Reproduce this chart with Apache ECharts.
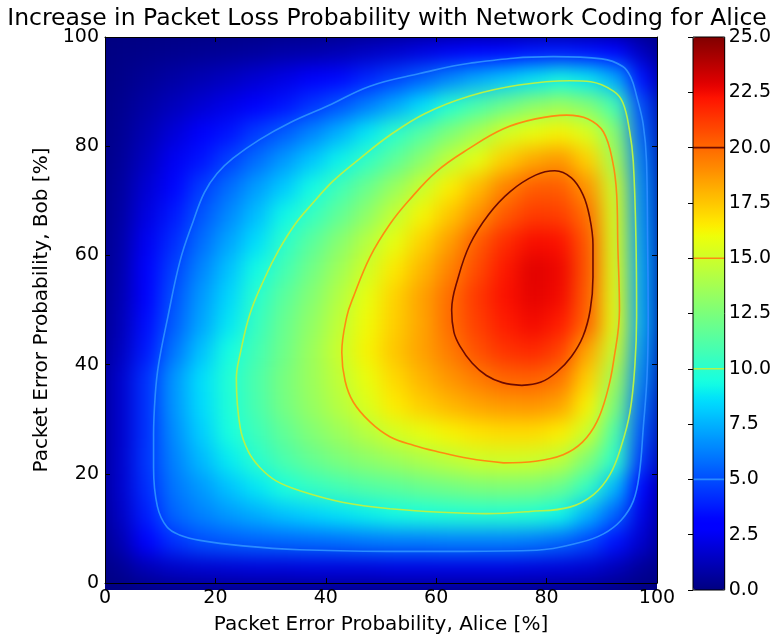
<!DOCTYPE html>
<html>

<head>
	<meta charset="utf-8" />
	<title>Increase in Packet Loss Probability</title>
	<script src="https://cdn.jsdelivr.net/npm/echarts@6/dist/echarts.min.js"></script>
	<style>
		body { margin: 0; background: #fff; }
		#main { width: 774px; height: 640px; }
		/* heatmap layer (zlevel 0): soften the cells and cut it to the plot box */
		#main canvas[data-zr-dom-id="zr_0"] {
			filter: blur(10px);
			clip-path: inset(37px 117px 50px 105px);
			background: #00007f;
		}
	</style>
</head>

<body>
	<div id="main"></div>
	<script type="text/javascript">
		// cell centres, Alice (x) and Bob (y), in %
		var xCenters = [2.5, 7.5, 12.5, 17.5, 22.5, 27.5, 32.5, 37.5, 42.5, 47.5, 52.5, 57.5, 62.5, 67.5, 72.5, 77.5, 82.5, 87.5, 92.5, 97.5];
		var yCenters = [2.5, 7.5, 12.5, 17.5, 22.5, 27.5, 32.5, 37.5, 42.5, 47.5, 52.5, 57.5, 62.5, 67.5, 72.5, 77.5, 82.5, 87.5, 92.5, 97.5];

		// increase in loss probability [%], one row per y centre, bottom row first
		var rowsByY = [
			[0.4, 1.1, 1.5, 1.7, 1.8, 1.9, 1.9, 2.0, 2.0, 2.0, 2.1, 2.1, 2.1, 2.1, 2.1, 2.0, 1.9, 1.7, 1.2, 0.5],
			[1.0, 3.0, 4.3, 5.0, 5.3, 5.5, 5.6, 5.7, 5.8, 6.0, 6.1, 6.1, 6.2, 6.2, 6.2, 6.0, 5.6, 4.8, 3.5, 1.6],
			[1.4, 3.8, 5.6, 6.3, 6.9, 7.4, 7.9, 8.3, 8.7, 9.0, 9.3, 9.5, 9.7, 9.8, 9.8, 9.7, 9.2, 7.5, 5.5, 2.2],
			[1.6, 4.2, 6.0, 6.9, 7.9, 8.8, 9.6, 10.3, 10.8, 11.2, 11.5, 11.9, 12.2, 12.5, 12.6, 12.5, 11.9, 10.3, 7.6, 3.1],
			[1.6, 4.4, 6.3, 7.7, 8.9, 10.0, 11.0, 11.8, 12.5, 13.0, 13.5, 14.0, 14.5, 15.0, 15.1, 15.0, 14.5, 12.6, 10.1, 4.3],
			[1.6, 4.3, 6.6, 8.2, 9.5, 10.6, 11.7, 12.7, 13.5, 14.3, 15.2, 15.8, 16.3, 16.7, 16.9, 16.9, 16.4, 14.9, 11.0, 5.0],
			[1.6, 4.3, 6.8, 8.5, 9.7, 11.0, 12.3, 13.3, 14.3, 15.4, 16.5, 17.3, 17.9, 18.4, 18.7, 18.8, 18.4, 16.3, 12.5, 5.6],
			[1.6, 4.3, 6.8, 8.6, 9.8, 11.1, 12.4, 13.5, 14.6, 15.9, 17.0, 18.0, 18.8, 19.5, 20.1, 20.2, 19.7, 17.2, 13.6, 6.2],
			[1.3, 3.7, 6.0, 7.9, 9.4, 10.8, 12.1, 13.5, 14.9, 16.3, 17.5, 18.5, 19.5, 20.6, 21.4, 21.7, 21.0, 18.3, 14.8, 6.7],
			[1.1, 3.4, 5.4, 7.2, 8.8, 10.4, 11.9, 13.2, 14.6, 16.1, 17.3, 18.4, 19.9, 21.1, 22.0, 22.5, 22.0, 20.0, 15.6, 7.1],
			[1.0, 3.1, 5.1, 6.9, 8.4, 10.0, 11.5, 12.8, 14.2, 15.8, 17.2, 18.5, 19.9, 21.3, 22.3, 22.8, 22.5, 20.2, 15.5, 7.0],
			[0.9, 2.8, 4.7, 6.4, 7.9, 9.3, 10.8, 12.2, 13.6, 15.1, 16.6, 17.9, 19.3, 20.8, 22.1, 22.9, 22.6, 20.4, 15.4, 7.0],
			[0.8, 2.5, 4.2, 5.8, 7.2, 8.6, 10.1, 11.5, 12.9, 14.3, 15.8, 17.2, 18.6, 20.3, 21.6, 22.4, 22.3, 20.3, 15.3, 6.8],
			[0.7, 2.1, 3.7, 5.2, 6.5, 7.8, 9.2, 10.4, 11.7, 13.1, 14.7, 16.2, 17.5, 18.9, 20.4, 21.2, 21.1, 19.8, 15.2, 6.6],
			[0.6, 1.8, 3.2, 4.6, 5.8, 7.0, 8.1, 9.3, 10.7, 12.0, 13.4, 14.9, 16.4, 17.8, 19.3, 20.3, 20.3, 18.8, 14.9, 6.4],
			[0.5, 1.4, 2.5, 3.6, 4.7, 5.8, 6.9, 8.0, 9.1, 10.3, 11.6, 13.0, 14.6, 15.8, 17.3, 18.3, 18.8, 17.2, 13.8, 6.0],
			[0.4, 1.1, 1.9, 2.7, 3.6, 4.6, 5.4, 6.4, 7.5, 8.8, 10.1, 11.3, 12.6, 13.8, 15.2, 15.9, 16.3, 15.4, 12.8, 5.4],
			[0.3, 0.8, 1.3, 1.8, 2.3, 2.9, 3.6, 4.4, 5.2, 6.2, 7.3, 8.6, 9.9, 11.0, 12.0, 13.0, 13.5, 12.7, 10.8, 4.8],
			[0.2, 0.5, 0.8, 1.1, 1.4, 1.8, 2.2, 2.7, 3.3, 4.0, 4.7, 5.5, 6.4, 7.3, 8.0, 8.7, 9.2, 8.8, 7.3, 3.4],
			[0.1, 0.2, 0.3, 0.4, 0.5, 0.6, 0.8, 0.9, 1.1, 1.4, 1.7, 2.1, 2.5, 2.9, 3.2, 3.5, 3.6, 3.4, 2.8, 1.3]
		];

		// contour lines, [alice, bob]
		var contour5 = [[51.6, 5.8], [65, 5.8], [78.2, 6.0], [86, 7.4], [90.3, 9], [93.5, 11.5], [95.7, 15], [96.8, 20], [97.5, 28.3], [98.2, 38], [98.4, 48.8], [98.3, 62], [98.1, 77.2], [97.5, 84], [96.3, 89.2], [95.3, 92.5], [93.8, 94.6], [90, 96], [81.2, 96.4], [66.1, 95.2], [57, 93.3], [48, 91], [40.4, 87.4], [33.5, 84.3], [28, 81.2], [23.2, 77.8], [20.3, 75], [18, 71.5], [16, 66.3], [13.6, 59], [11.4, 48.8], [9.7, 40], [9.1, 34.4], [8.8, 27], [8.8, 21.1], [9.5, 14], [11.2, 10.3], [13.5, 8.8], [17.2, 7.8], [25, 6.8], [35.3, 6.1], [51.6, 5.8]];
		var contour10 = [[51.6, 13.6], [60, 13.0], [69.1, 12.7], [77, 13.1], [84.2, 13.9], [88.5, 16.2], [91.5, 19.9], [93.5, 25], [95.1, 31.3], [96, 40], [96.3, 48.8], [96.2, 62], [95.7, 77.2], [95.0, 83], [93.8, 88], [92.1, 90.1], [88, 91.8], [84.2, 92], [75, 91.2], [66.1, 89.2], [58, 86], [51.6, 82], [46, 77.6], [41.3, 73.6], [37.5, 69.4], [34.5, 65.8], [31.5, 61], [29, 56], [26.3, 49.4], [24.5, 42], [23.8, 37.4], [24.5, 28.4], [26, 24], [28.1, 21.1], [31, 18.7], [35.3, 16.9], [43, 14.8], [51.6, 13.6]];
		var contour15 = [[72.2, 22], [78, 22.3], [83, 23.5], [86.5, 25.8], [89.1, 29.5], [91, 35], [92.1, 40.4], [93.2, 50], [92.9, 62], [92.7, 71.1], [92, 77], [90.3, 82.6], [87.5, 85], [83.6, 85.7], [78, 85], [72.2, 83.2], [66, 79.6], [60.1, 75.4], [55, 70], [51.6, 65.7], [48, 59.7], [45, 52.4], [43.8, 48.8], [42.9, 42.2], [43.5, 37], [45, 33.1], [48, 29.5], [51.6, 26.8], [56, 25.2], [60.1, 24.1], [66, 22.8], [72.2, 22]];
		var contour20 = [[75.5, 36.2], [79, 36.8], [81.8, 38.6], [84.5, 41.5], [86.6, 45.2], [87.9, 50], [88.4, 56], [88.4, 62], [87.8, 67], [86.6, 71.1], [84.5, 74.2], [81.5, 75.5], [78, 74.7], [73.4, 71.7], [69.5, 67.5], [66.1, 62], [64, 56], [62.8, 50], [63.2, 46], [64.3, 43.4], [66.5, 40.3], [69.1, 38], [72, 36.7], [75.5, 36.2]];

		var contourLevels = [5, 10, 15, 20];
		var contourLines = [contour5, contour10, contour15, contour20];
		var contourColors = ['#2a8cff', '#b4f24a', '#ff8a10', '#6e0a00'];

		// matplotlib "jet" colour map
		var jetR = [[0, 0], [0.35, 0], [0.66, 1], [0.89, 1], [1, 0.5]];
		var jetG = [[0, 0], [0.125, 0], [0.375, 1], [0.64, 1], [0.91, 0], [1, 0]];
		var jetB = [[0, 0.5], [0.11, 1], [0.34, 1], [0.65, 0], [1, 0]];
		function seg(pts, t) {
			for (var i = 1; i < pts.length; i++) {
				if (t <= pts[i][0]) {
					var a = pts[i - 1], b = pts[i];
					return a[1] + (b[1] - a[1]) * (t - a[0]) / (b[0] - a[0]);
				}
			}
			return pts[pts.length - 1][1];
		}
		var jetColors = [];
		for (var k = 0; k <= 64; k++) {
			var t = k / 64;
			jetColors.push('rgb(' + Math.round(seg(jetR, t) * 255) + ',' + Math.round(seg(jetG, t) * 255) + ',' + Math.round(seg(jetB, t) * 255) + ')');
		}

		var heatData = [];
		for (var j = 0; j < yCenters.length; j++) {
			for (var i = 0; i < xCenters.length; i++) {
				heatData.push([i, j, rowsByY[j][i]]);
			}
		}

		var font = 'DejaVu Sans';
		var blackLine = { color: '#000', width: 1 };

		var series = [{
			type: 'heatmap',
			xAxisIndex: 0,
			yAxisIndex: 0,
			data: heatData,
			zlevel: 0,
			progressive: 0,
			emphasis: { disabled: true }
		}];
		for (var c = 0; c < contourLevels.length; c++) {
			series.push({
				type: 'line',
				xAxisIndex: 1,
				yAxisIndex: 1,
				data: contourLines[c],
				smooth: 0.4,
				showSymbol: false,
				silent: true,
				zlevel: 1,
				z: 5,
				lineStyle: { color: contourColors[c], width: 1.6 }
			});
			// the same level marked across the colour bar
			series.push({
				type: 'line',
				xAxisIndex: 3,
				yAxisIndex: 3,
				data: [[0, contourLevels[c]], [1, contourLevels[c]]],
				showSymbol: false,
				silent: true,
				zlevel: 1,
				z: 6,
				lineStyle: { color: contourColors[c], width: 1.6 }
			});
		}

		var myChart = echarts.init(document.getElementById('main'));

		option = {
			animation: false,
			title: {
				text: 'Increase in Packet Loss Probability with Network Coding for Alice',
				left: 'center',
				top: 2,
				zlevel: 1,
				textStyle: { fontFamily: font, fontSize: 23.5, fontWeight: 'normal', color: '#000' }
			},
			grid: [
				{ left: 105, top: 37, width: 552, height: 553 },
				{ left: 693, top: 37, width: 32, height: 553, show: true, backgroundColor: 'transparent', borderColor: '#000', borderWidth: 1, zlevel: 2 }
			],
			xAxis: [
				{ type: 'category', gridIndex: 0, data: xCenters, show: false },
				{
					type: 'value', gridIndex: 0, min: 0, max: 100, interval: 20, position: 'bottom', zlevel: 1, z: 10,
					axisLine: { show: true, onZero: false, lineStyle: blackLine },
					axisTick: { show: true, inside: true, length: 5, lineStyle: blackLine },
					axisLabel: { margin: 6, fontFamily: font, fontSize: 19, color: '#000' },
					splitLine: { show: false },
					name: 'Packet Error Probability, Alice [%]',
					nameLocation: 'middle',
					nameGap: 32,
					nameTextStyle: { fontFamily: font, fontSize: 20, color: '#000' }
				},
				{
					type: 'value', gridIndex: 0, min: 0, max: 100, interval: 20, position: 'top', zlevel: 1, z: 10,
					axisLine: { show: true, onZero: false, lineStyle: blackLine },
					axisTick: { show: true, inside: true, length: 5, lineStyle: blackLine },
					axisLabel: { show: false },
					splitLine: { show: false }
				},
				{ type: 'value', gridIndex: 1, min: 0, max: 1, show: false }
			],
			yAxis: [
				{ type: 'category', gridIndex: 0, data: yCenters, show: false },
				{
					type: 'value', gridIndex: 0, min: 0, max: 100, interval: 20, position: 'left', zlevel: 1, z: 10,
					axisLine: { show: true, onZero: false, lineStyle: blackLine },
					axisTick: { show: true, inside: true, length: 5, lineStyle: blackLine },
					axisLabel: { margin: 6, fontFamily: font, fontSize: 19, color: '#000' },
					splitLine: { show: false },
					name: 'Packet Error Probability, Bob [%]',
					nameLocation: 'middle',
					nameGap: 41,
					nameTextStyle: { fontFamily: font, fontSize: 20, color: '#000' }
				},
				{
					type: 'value', gridIndex: 0, min: 0, max: 100, interval: 20, position: 'right', zlevel: 1, z: 10,
					axisLine: { show: true, onZero: false, lineStyle: blackLine },
					axisTick: { show: true, inside: true, length: 5, lineStyle: blackLine },
					axisLabel: { show: false },
					splitLine: { show: false }
				},
				{
					type: 'value', gridIndex: 1, min: 0, max: 25, interval: 2.5, position: 'right', zlevel: 2, z: 10,
					axisLine: { show: false },
					axisTick: { show: true, inside: true, length: 5, lineStyle: blackLine },
					axisLabel: {
						margin: 4, fontFamily: font, fontSize: 19, color: '#000',
						formatter: function (v) { return v.toFixed(1); }
					},
					splitLine: { show: false }
				}
			],
			visualMap: {
				type: 'continuous',
				seriesIndex: 0,
				min: 0,
				max: 25,
				calculable: false,
				hoverLink: false,
				left: 693,
				top: 37,
				padding: 0,
				itemWidth: 32,
				itemHeight: 553,
				zlevel: 1,
				inRange: { color: jetColors }
			},
			series: series
		};

		myChart.setOption(option);
	</script>
</body>

</html>
